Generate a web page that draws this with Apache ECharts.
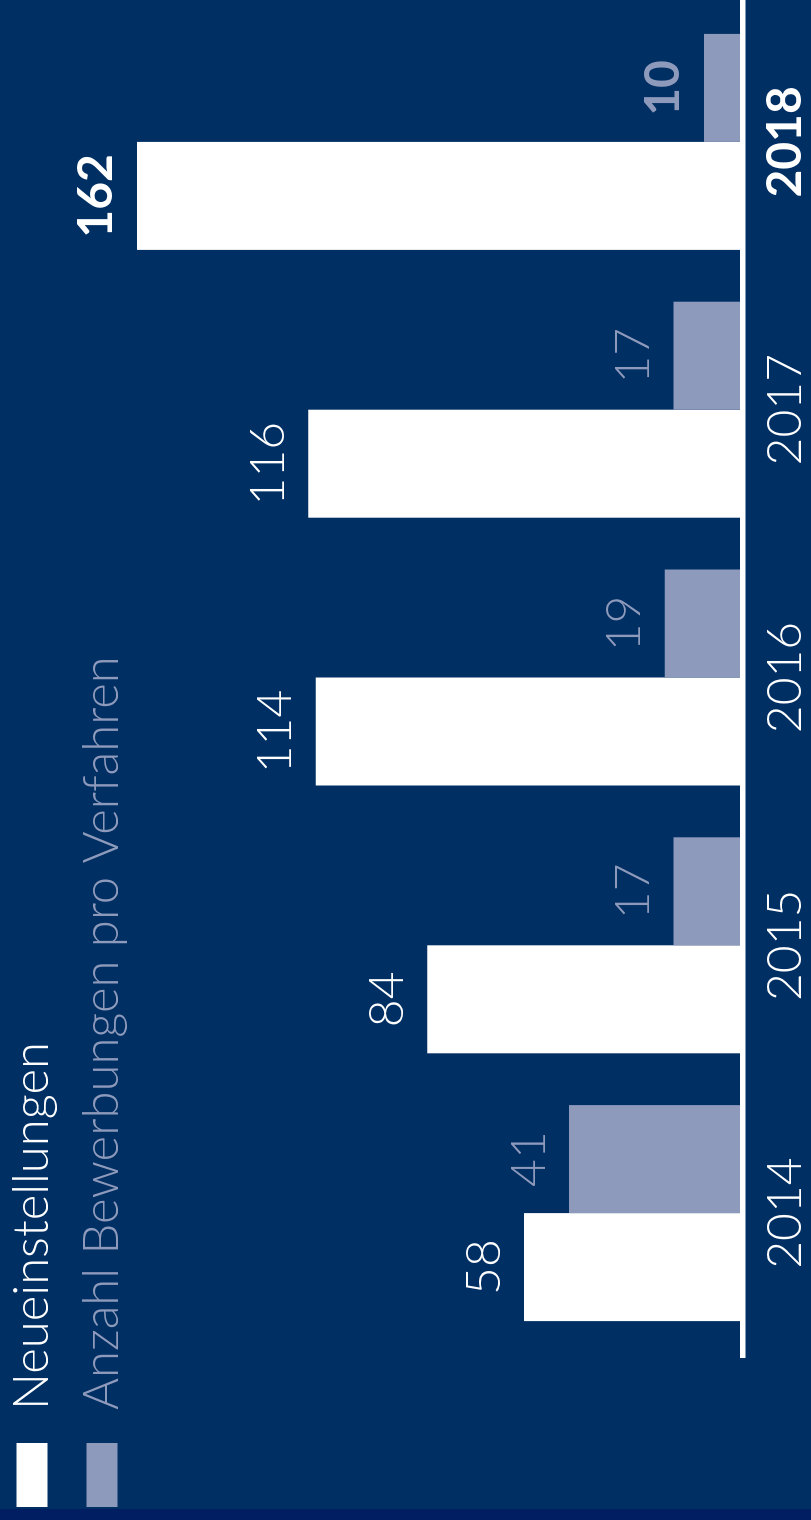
<!DOCTYPE html>
<html>
<head>
<meta charset="utf-8">
<script src="https://cdn.jsdelivr.net/npm/echarts@6/dist/echarts.min.js"></script>
<style>
  html, body { margin: 0; padding: 0; width: 811px; height: 1520px; overflow: hidden; background: #002F63; }
  /* the graphic is a landscape chart turned on its side */
  #main { position: absolute; left: 0; top: 0; width: 1520px; height: 811px;
          transform-origin: 0 0; transform: translate(0, 1520px) rotate(-90deg); }
</style>
</head>
<body>
<div id="main"></div>
<script>
var years = ['2014', '2015', '2016', '2017', '2018'];
var neueinstellungen = [58, 84, 114, 116, 162];
var bewerbungen = [41, 17, 19, 17, 10];
var highlightYear = '2018';

var white = '#FFFFFF';
var grey = '#8E9ABB';
var font = 'Lato, "Noto Sans", sans-serif';

var toItems = function(values) {
    return values.map(function(v, i) {
        if (years[i] === highlightYear) {
            return { value: v, label: { fontWeight: 'bold' } };
        }
        return v;
    });
};

var myChart = echarts.init(document.getElementById('main'));
myChart.setOption({
    animation: false,
    backgroundColor: '#002F63',
    legend: {
        orient: 'vertical',
        left: 13,
        top: 7.5,
        padding: 0,
        itemWidth: 64,
        itemHeight: 31,
        itemGap: 21,
        icon: 'rect',
        selectedMode: false,
        textStyle: { fontSize: 49, fontWeight: 300, fontFamily: font, lineHeight: 31, padding: [0, 0, 0, 28] },
        data: [
            { name: 'Neueinstellungen', textStyle: { color: white } },
            { name: 'Anzahl Bewerbungen pro Verfahren', textStyle: { color: grey } }
        ]
    },
    grid: { left: 173, right: 8, top: 70, bottom: 71 },
    xAxis: {
        type: 'category',
        data: years.map(function(y) {
            return y === highlightYear ? { value: y, textStyle: { fontWeight: 'bold' } } : y;
        }),
        axisLine: { show: false },
        axisTick: { show: false },
        axisLabel: { color: white, fontSize: 48, fontWeight: 300, fontFamily: font, margin: 22 }
    },
    yAxis: [
        { type: 'value', min: 0, max: 180, show: false },
        // grey bars sit on their own scale in the original
        { type: 'value', min: 1.7, max: 155.7, show: false }
    ],
    graphic: [
        { type: 'rect', shape: { x: 0, y: 0, width: 11, height: 811 }, style: { fill: '#021E62' } },
        { type: 'rect', shape: { x: 162, y: 740, width: 1358, height: 5.5 }, style: { fill: white }, z: 10 }
    ],
    series: [{
        name: 'Neueinstellungen',
        type: 'bar',
        yAxisIndex: 0,
        barWidth: 108,
        barGap: '0%',
        itemStyle: { color: white },
        label: { show: true, position: 'top', distance: 16, color: white, fontSize: 48, fontWeight: 300, fontFamily: font },
        data: toItems(neueinstellungen)
    }, {
        name: 'Anzahl Bewerbungen pro Verfahren',
        type: 'bar',
        yAxisIndex: 1,
        barWidth: 108,
        barGap: '0%',
        itemStyle: { color: grey },
        label: { show: true, position: 'top', distance: 16, color: grey, fontSize: 48, fontWeight: 300, fontFamily: font },
        data: toItems(bewerbungen)
    }]
});
</script>
</body>
</html>
